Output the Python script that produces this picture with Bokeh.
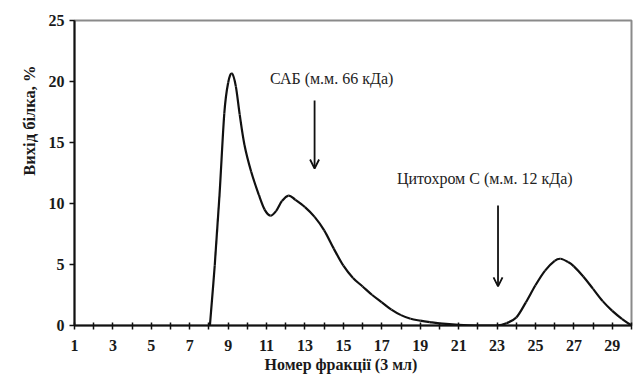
from bokeh.plotting import figure
from bokeh.models import FixedTicker, Arrow, OpenHead, Label, Range1d, Title
from bokeh.embed import file_html
from bokeh.resources import INLINE

# Elution profile: fraction number vs protein yield (%)
fraction = [8.05, 8.3, 8.55, 8.8, 9.0, 9.2, 9.4, 9.6, 9.85, 10.2, 10.6, 10.9,
            11.2, 11.5, 11.8, 12.15, 12.5, 13.0, 13.5, 14.0, 14.5, 15.0, 15.5,
            16.0, 16.5, 17.0, 17.5, 18.0, 18.5, 19.0, 19.5, 20.0, 21.0, 22.0,
            23.0, 23.5, 24.0, 24.5, 25.0, 25.5, 26.0, 26.3, 26.7, 27.0, 27.5,
            28.0, 28.5, 29.0, 29.5, 30.0]
yield_pct = [0.0, 4.9, 10.7, 17.4, 19.9, 20.65, 19.6, 17.3, 14.8, 12.6, 10.7, 9.5,
             9.0, 9.4, 10.2, 10.65, 10.3, 9.7, 8.9, 7.8, 6.3, 4.9, 3.9,
             3.2, 2.5, 1.9, 1.3, 0.85, 0.55, 0.4, 0.28, 0.18, 0.06, 0.0,
             0.0, 0.2, 0.65, 1.9, 3.3, 4.5, 5.3, 5.47, 5.2, 4.85, 4.0,
             3.0, 2.0, 1.2, 0.55, 0.0]

x_ticks = list(range(1, 31))
x_tick_labels = [str(t) if t % 2 == 1 else "" for t in x_ticks]
y_ticks = [0, 5, 10, 15, 20, 25]

markers = [
    {"text": "САБ (м.м. 66 кДа)", "x": 13.5},
    {"text": "Цитохром С (м.м. 12 кДа)", "x": 23.05},
]

x_title = "Номер фракції (3 мл)"
y_title = "Вихід білка, %"

SERIF = "Liberation Serif"
INK = "#1a1a1a"

p = figure(width=633, height=374, output_backend="svg", toolbar_location=None,
           x_range=Range1d(1, 30), y_range=Range1d(0, 25),
           min_border_left=74, min_border_right=2, min_border_top=20,
           min_border_bottom=49)
p.background_fill_color = "white"
p.border_fill_color = "white"
p.outline_line_color = "#8a8a8a"
p.outline_line_width = 2
p.grid.visible = False

# smooth curve through the points (Catmull-Rom converted to cubic Bezier)
n = len(fraction)
x0, y0, x1, y1, cx0, cy0, cx1, cy1 = [], [], [], [], [], [], [], []
for i in range(n - 1):
    xa, ya = fraction[i], yield_pct[i]
    xb, yb = fraction[i + 1], yield_pct[i + 1]
    xp, yp = (fraction[i - 1], yield_pct[i - 1]) if i > 0 else (xa, ya)
    xn, yn = (fraction[i + 2], yield_pct[i + 2]) if i + 2 < n else (xb, yb)
    x0.append(xa); y0.append(ya); x1.append(xb); y1.append(yb)
    cx0.append(xa + (xb - xp) / 6); cy0.append(ya + (yb - yp) / 6)
    cx1.append(xb - (xn - xa) / 6); cy1.append(yb - (yn - ya) / 6)
p.bezier(x0=x0, y0=y0, x1=x1, y1=y1, cx0=cx0, cy0=cy0, cx1=cx1, cy1=cy1,
         line_color="#111111", line_width=2.2)

# axes
p.xaxis.ticker = FixedTicker(ticks=x_ticks)
p.xaxis.major_label_overrides = {t: lab for t, lab in zip(x_ticks, x_tick_labels)}
p.yaxis.ticker = FixedTicker(ticks=y_ticks)
for ax in (p.xaxis, p.yaxis):
    ax.axis_line_color = "#111111"
    ax.axis_line_width = 2
    ax.major_tick_line_color = "#111111"
    ax.major_tick_line_width = 1.5
    ax.minor_tick_line_color = None
    ax.major_label_text_font = SERIF
    ax.major_label_text_font_style = "bold"
    ax.major_label_text_font_size = "16px"
    ax.major_label_text_color = INK
p.xaxis.major_tick_in = 3
p.xaxis.major_tick_out = 4
p.xaxis.major_label_standoff = 10
p.yaxis.major_tick_in = 0
p.yaxis.major_tick_out = 5
p.yaxis.major_label_standoff = 5

# axis titles as side-panel titles so they can sit off-centre
p.add_layout(Title(text=x_title, align="left", offset=190, standoff=0,
                   text_font=SERIF, text_font_style="bold",
                   text_font_size="16px", text_color=INK), "below")
p.add_layout(Title(text=y_title, align="right", offset=45, standoff=14,
                   text_font=SERIF, text_font_style="bold",
                   text_font_size="16.5px", text_color=INK), "left")

# marker proteins: label and arrow
label_pos = [(14.39, 20.25, 18.44, 12.87), (22.36, 12.05, 9.84, 3.2)]
for m, (lx, ly, a_top, a_tip) in zip(markers, label_pos):
    p.add_layout(Label(x=lx, y=ly, text=m["text"], text_font=SERIF,
                       text_font_size="16px", text_color="#222222",
                       text_align="center", text_baseline="middle"))
    p.add_layout(Arrow(end=OpenHead(size=9, line_width=1.8, line_color="#111111"),
                       x_start=m["x"], y_start=a_top, x_end=m["x"], y_end=a_tip,
                       line_width=1.8, line_color="#111111"))

open("out.html", "w").write(file_html(p, INLINE))
